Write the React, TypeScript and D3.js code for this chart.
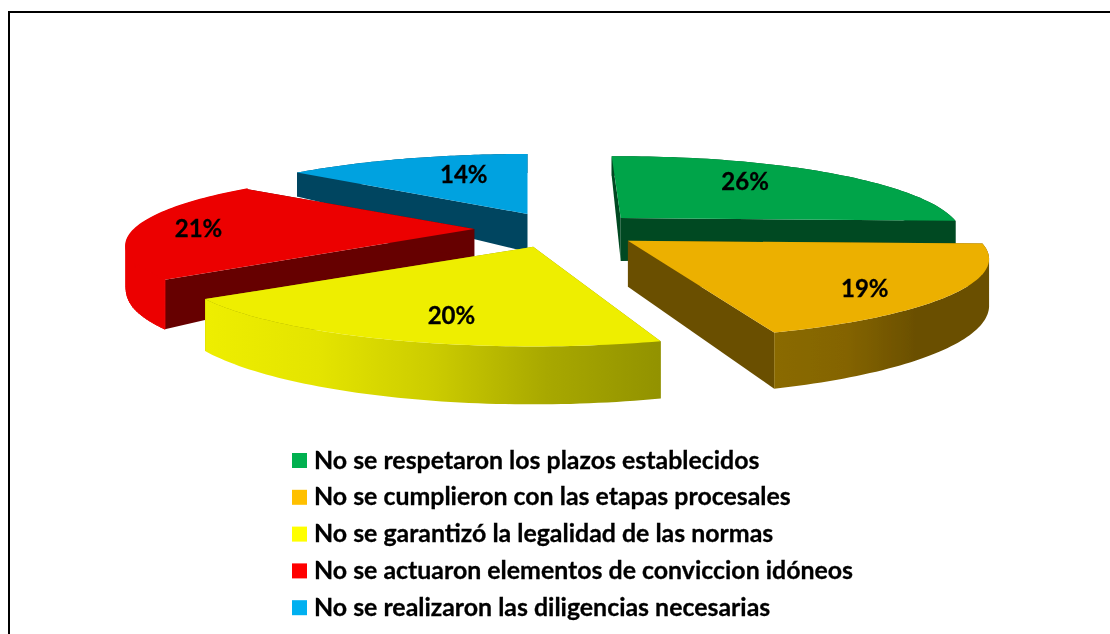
import React from "react";
import * as d3 from "d3";

const categories = [
  "No se respetaron los plazos establecidos",
  "No se cumplieron con las etapas procesales",
  "No se garantizó la legalidad de las normas",
  "No se actuaron elementos de conviccion idóneos",
  "No se realizaron las diligencias necesarias",
];
const values = [26, 19, 20, 21, 14];
const legendColors = ["#00b050", "#ffc000", "#ffff00", "#ff0000", "#00b0f0"];
const topColors = ["#00a44a", "#ecb000", "#eeee00", "#ec0000", "#00a2e0"];
const wallColors = ["#004a22", "#6a4f00", "#8f8f00", "#660000", "#004560"];
const bandStops: string[][] = [
  ["#004a22", "#004a22"],
  ["#8a6a00", "#846400", "#6a4f00", "#6a4f00"],
  ["#eeee00", "#e4e400", "#cccc00", "#a8a800", "#929200"],
  ["#ec0000", "#ec0000"],
  ["#004560", "#004560"],
];
const drawOrder = [4, 0, 3, 1, 2];

// layout tuning, per slice
const labelFracs = [0.6, 0.73, 0.7, 0.8, 0.55];
const labelShift = [[-10, -8], [12, 13], [-1, 11], [0, 0], [13, -6]];
const apexShift = [[7, 1], [2, 1], [1, 0], [0, 0], [6, 0]];
const angleShift = [[-0.4, 0], [0, 0.4], [3, 1.5], [-0.8, 2], [2, 1.5]];
const widthScale = [0.963, 1.02, 1.02, 0.983, 1];
const heightScale = [1.03, 1.04, 1.05, 0.96, 1];
const apexDepth = [43, 46, 40, 29, 38];

const cx = 557;
const cy = 229;
const R = 345;
const RY = 73.5;
const K = 0.225;
const EXPLODE = 0.24;
const DEG = Math.PI / 180;

const proj = (u: number, v: number): [number, number] => {
  const s = 1 / (1 - K * v);
  return [R * u * s, RY * v * s];
};
const polar = (a: number, r = 1): [number, number] => proj(r * Math.sin(a), -r * Math.cos(a));
const rimDepth = d3.scaleLinear().domain([173, 260, 331]).range([24, 47, 56]);
const line = d3.line();

type P = [number, number];
const startAngle = -1.5 * DEG;
const arcs = d3
  .pie<number>()
  .sort(null)
  .startAngle(startAngle)
  .endAngle(startAngle + 2 * Math.PI)(values);

const slices = arcs.map((a, i) => {
  const mid = (a.startAngle + a.endAngle) / 2;
  const [ax, ay] = polar(mid, EXPLODE);
  const apex: P = [cx + ax + apexShift[i][0], cy + ay + apexShift[i][1]];
  const a0 = a.startAngle + angleShift[i][0] * DEG;
  const a1 = a.endAngle + angleShift[i][1] * DEG;
  const rim = d3.range(0, 61).map((j) => {
    const [x, y] = polar(a0 + ((a1 - a0) * j) / 60);
    return [apex[0] + x * widthScale[i], apex[1] + y * heightScale[i]] as P;
  });
  return { apex, rim, mid };
});

const drop = (p: P): P => [p[0], p[1] + rimDepth(p[1])];
const path = (pts: P[]) => line(pts) + "Z";
// ribbon as a union of consistently wound quads, so that folds do not cancel out
const ribbon = (rim: P[]) =>
  d3
    .pairs(rim)
    .map(([p, q]) => {
      const quad: P[] = [p, q, drop(q), drop(p)];
      return path(d3.polygonArea(quad) < 0 ? quad.reverse() : quad);
    })
    .join("");

export default function App() {
  return (
    <svg
      width={1110}
      height={634}
      style={{ position: "absolute", left: 0, top: 0, background: "#fff" }}
    >
      <defs>
        <filter id="soft" x="-5%" y="-5%" width="110%" height="110%">
          <feGaussianBlur stdDeviation="0.5" />
        </filter>
        {slices.map((s, i) => {
          const ext = d3.extent(s.rim, (p) => p[0]) as [number, number];
          const stops = bandStops[i];
          return (
            <linearGradient
              key={i}
              id={`band${i}`}
              gradientUnits="userSpaceOnUse"
              x1={ext[0]}
              x2={ext[1]}
              y1={0}
              y2={0}
            >
              {stops.map((c, j) => (
                <stop key={j} offset={j / (stops.length - 1)} stopColor={c} />
              ))}
            </linearGradient>
          );
        })}
      </defs>
      <g filter="url(#soft)">
        <path d="M9,700V12H1130" fill="none" stroke="#000" strokeWidth={2} />
        {drawOrder.map((i) => {
          const { apex, rim } = slices[i];
          const first = rim[0];
          const last = rim[rim.length - 1];
          const apexLow: P = [apex[0], apex[1] + apexDepth[i]];
          return (
            <g key={i}>
              <path d={path([apex, first, drop(first), apexLow])} fill={wallColors[i]} />
              <path d={path([apex, last, drop(last), apexLow])} fill={wallColors[i]} />
              <path
                d={ribbon(rim)}
                fill={`url(#band${i})`}
                stroke={i === 3 ? topColors[3] : "none"}
                strokeWidth={1}
              />
              <path d={path([apex, ...rim])} fill={topColors[i]} />
              {i === 3 && (
                <path d={line(rim) ?? ""} fill="none" stroke={topColors[3]} strokeWidth={2} />
              )}
            </g>
          );
        })}
        {slices.map((s, i) => {
          const [x, y] = polar(s.mid, labelFracs[i]);
          return (
            <text
              key={i}
              x={s.apex[0] + x + labelShift[i][0]}
              y={s.apex[1] + y + 8 + labelShift[i][1]}
              textAnchor="middle"
              fontFamily="Lato"
              fontWeight={700}
              fontSize={24}
              fill="#000"
              stroke="#000"
              strokeWidth={0.3}
            >
              {values[i]}%
            </text>
          );
        })}
        {categories.map((c, i) => {
          const y = 460.5 + i * 36.8;
          return (
            <g key={c}>
              <rect x={292} y={y - 7.5} width={15} height={15} fill={legendColors[i]} />
              <text
                x={314}
                y={y + 8}
                fontFamily="Lato"
                fontWeight={700}
                fontSize={24.9}
                fill="#000"
                stroke="#000"
                strokeWidth={0.3}
              >
                {c}
              </text>
            </g>
          );
        })}
      </g>
    </svg>
  );
}
